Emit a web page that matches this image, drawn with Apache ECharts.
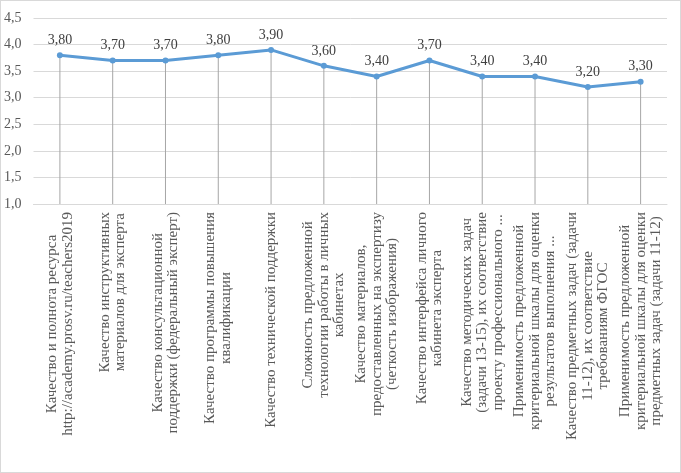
<!DOCTYPE html>
<html>
<head>
<meta charset="utf-8">
<title>Оценки</title>
<script src="https://cdn.jsdelivr.net/npm/echarts@6/dist/echarts.min.js"></script>
<style>
  html, body { margin: 0; padding: 0; background: #fff; }
  #main { width: 681px; height: 473px; box-sizing: border-box; border: 1px solid #d9d9d9; }
</style>
</head>
<body>
<div id="main"></div>
<script>
// категории (строки подписей оси X)
var categories = [
  ['Качество и полнота ресурса', 'http://academy.prosv.ru/teachers2019'],
  ['Качество инструктивных', 'материалов для эксперта'],
  ['Качество консультационной', 'поддержки (федеральный эксперт)'],
  ['Качество программы повышения', 'квалификации'],
  ['Качество технической поддержки'],
  ['Сложность предложенной', 'технологии работы в личных', 'кабинетах'],
  ['Качество материалов,', 'предоставленных на экспертизу', '(четкость изображения)'],
  ['Качество интерфейса личного', 'кабинета эксперта'],
  ['Качество методических задач', '(задачи 13-15), их соответствие', 'проекту профессионального ...'],
  ['Применимость предложенной', 'критериальной шкалы для оценки', 'результатов выполнения ...'],
  ['Качество предметных задач (задачи', '11-12), их соответствие', 'требованиям ФГОС'],
  ['Применимость предложенной', 'критериальной шкалы для оценки', 'предметных задач (задачи 11-12)']
];
var values = [3.8, 3.7, 3.7, 3.8, 3.9, 3.6, 3.4, 3.7, 3.4, 3.4, 3.2, 3.3];

var yMin = 1, yMax = 4.5, yStep = 0.5;

var catNames = categories.map(function (c) { return c.join('\n'); });

var chart = echarts.init(document.getElementById('main'));

var option = {
  animation: false,
  grid: { left: 32, right: 13, top: 17, bottom: 268 },
  xAxis: {
    type: 'category',
    data: catNames,
    boundaryGap: true,
    axisLine: { lineStyle: { color: '#d9d9d9', width: 1 } },
    axisTick: { show: false },
    axisLabel: {
      interval: 0,
      rotate: 90,
      margin: 8,
      color: '#595959',
      fontFamily: 'Liberation Serif',
      fontSize: 15,
      lineHeight: 15.5,
      formatter: function (v) {
        return v.split('\n').map(function (s) { return '{c|' + s + '}'; }).join('\n');
      },
      rich: {
        c: { align: 'center', color: '#595959', fontFamily: 'Liberation Serif', fontSize: 15, lineHeight: 15.5 }
      }
    }
  },
  yAxis: {
    type: 'value',
    min: yMin,
    max: yMax,
    interval: yStep,
    axisLine: { show: false },
    axisTick: { show: false },
    splitLine: { lineStyle: { color: '#d9d9d9', width: 1 } },
    axisLabel: {
      margin: 12,
      color: '#595959',
      fontFamily: 'Liberation Serif',
      fontSize: 14,
      formatter: function (v) { return v.toFixed(1).replace('.', ','); }
    }
  },
  series: [
    {
      // линии проекции до оси
      type: 'bar',
      data: values,
      barWidth: 1,
      itemStyle: { color: '#a6a6a6' },
      silent: true,
      z: 1
    },
    {
      type: 'line',
      data: values,
      symbol: 'circle',
      symbolSize: 6,
      lineStyle: { color: '#5b9bd5', width: 3 },
      itemStyle: { color: '#5b9bd5' },
      label: {
        show: true,
        position: 'top',
        distance: 5,
        color: '#404040',
        fontFamily: 'Liberation Serif',
        fontSize: 14,
        formatter: function (p) { return p.value.toFixed(2).replace('.', ','); }
      },
      z: 3
    }
  ]
};

chart.setOption(option);
</script>
</body>
</html>
